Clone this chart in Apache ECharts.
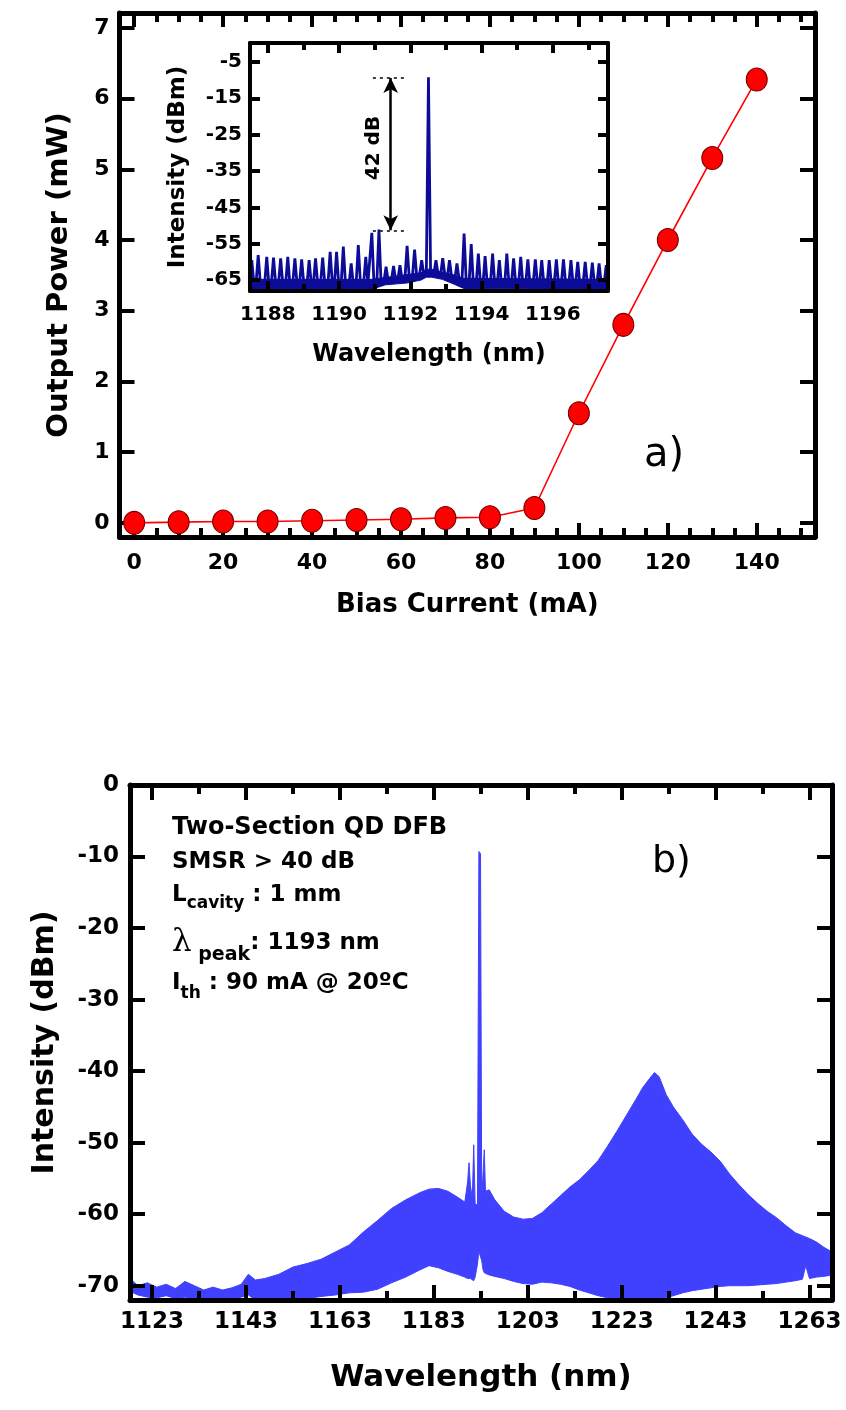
<!DOCTYPE html>
<html><head><meta charset="utf-8">
<script src="https://cdn.jsdelivr.net/npm/echarts@6/dist/echarts.min.js"></script>
<style>html,body{margin:0;padding:0;background:#fff}#c{width:846px;height:1410px}</style>
</head><body><div id="c"></div>
<script>
// ---------- Panel a : L-I curve ----------
const biasCurrent = [0,10,20,30,40,50,60,70,80,90,100,110,120,130,140];
const outputPower = [0.0,0.01,0.02,0.02,0.03,0.04,0.05,0.07,0.08,0.21,1.55,2.8,4.0,5.16,6.27];
const aXMajor = [0,20,40,60,80,100,120,140];
const aXMinor = [5,10,15,25,30,35,45,50,55,65,70,75,85,90,95,105,110,115,125,130,135,145,150];
const aYMajor = [0,1,2,3,4,5,6,7];

// ---------- Inset : zoomed lasing spectrum (mode peaks + noise floor) ----------
const modeWl = [1187.55,1187.73,1187.97,1188.16,1188.36,1188.56,1188.76,1188.95,1189.16,1189.34,1189.54,1189.75,1189.93,1190.12,1190.34,1190.54,1190.75,1190.92,1191.12,1191.32,1191.53,1191.71,1191.91,1192.12,1192.32,1192.51,1192.72,1192.91,1193.10,1193.31,1193.51,1193.71,1193.91,1194.10,1194.31,1194.50,1194.71,1194.90,1195.10,1195.30,1195.51,1195.69,1195.90,1196.10,1196.30,1196.51,1196.70,1196.91,1197.11,1197.30,1197.50];
const modePeak = [-59.5,-58.1,-58.6,-58.8,-59.0,-58.6,-59.0,-59.3,-59.5,-59.0,-58.8,-57.2,-57.2,-55.8,-60.4,-55.4,-58.6,-52.0,-51.1,-61.3,-61.1,-60.9,-55.6,-56.6,-59.5,-9.2,-59.5,-59.0,-59.5,-60.4,-52.2,-55.1,-57.7,-58.4,-57.7,-59.5,-57.7,-59.0,-58.6,-59.3,-59.3,-59.5,-59.5,-59.3,-59.3,-59.5,-60.0,-60.0,-60.2,-60.4,-60.9];
const modeFloor = [-66.0,-65.8,-66.1,-65.9,-66.0,-66.1,-65.9,-66.0,-66.1,-65.9,-66.0,-65.8,-66.0,-65.9,-66.1,-65.8,-66.0,-65.9,-65.8,-65.3,-65.0,-64.8,-64.3,-64.0,-63.5,-63.0,-63.3,-63.6,-64.2,-64.8,-65.5,-65.9,-66.0,-66.1,-65.9,-66.1,-66.0,-65.9,-66.1,-66.0,-65.9,-66.0,-66.1,-66.0,-65.9,-66.1,-66.0,-66.0,-66.1,-65.9,-66.0];
const modeHalfWidth = 0.06;
const floorWl = [1187.5,1190.9,1191.3,1191.9,1192.3,1192.45,1192.6,1192.9,1193.2,1193.5,1197.55];
const floorTop = [-64.8,-64.8,-64.3,-63.5,-63.0,-62.0,-62.0,-62.8,-63.5,-64.5,-64.8];
const floorBottom = [-67.6,-67.6,-66.3,-65.8,-65.0,-64.2,-64.2,-64.8,-66.0,-67.3,-67.6];
const inXMajor = [1188,1190,1192,1194,1196];
const inXMinor = [1189,1191,1193,1195,1197];
const inYMajor = [-65,-55,-45,-35,-25,-15,-5];
const smsrWl = 1191.45, smsrTop = -9.4, smsrBottom = -51.3, smsrDashFrom = 1190.95, smsrDashTo = 1191.85;

// ---------- Panel b : full spectrum envelope ----------
const specWl = [1118.3,1120,1122,1124,1126,1128,1130,1132,1134,1136,1138,1140,1142,1143.5,1145,1147,1150,1153,1156,1159,1162,1165,1168,1171,1174,1177,1180,1182,1184,1186,1188,1189.6,1190.2,1190.5,1190.8,1191.2,1191.5,1191.8,1192.3,1192.6,1192.95,1193.2,1193.5,1193.75,1194.0,1194.8,1196,1198,1200,1202,1204,1206,1208,1210,1212,1214,1216,1218,1220,1222,1224,1226,1227.5,1229,1230,1231,1232.5,1234,1236,1238,1240,1242,1244,1246,1248,1250,1252,1254,1256,1258,1260,1261.5,1262.2,1263,1264.5,1266,1267.8];
const specUpper = [-69.0,-70.0,-69.6,-70.2,-69.8,-70.4,-69.4,-70.0,-70.6,-70.2,-70.6,-70.3,-69.8,-68.4,-69.2,-69.0,-68.4,-67.4,-66.9,-66.3,-65.3,-64.3,-62.5,-60.9,-59.2,-58.0,-57.0,-56.5,-56.4,-56.8,-57.6,-58.3,-55.5,-52.8,-56.0,-57.8,-50.3,-58.5,-58.8,-9.3,-9.6,-58.0,-57.8,-51.0,-56.8,-56.6,-58.0,-59.6,-60.4,-60.7,-60.6,-59.8,-58.6,-57.4,-56.2,-55.2,-53.9,-52.5,-50.5,-48.4,-46.2,-44.0,-42.3,-41.0,-40.2,-40.8,-43.3,-45.0,-46.8,-48.8,-50.2,-51.3,-52.6,-54.4,-55.9,-57.3,-58.5,-59.6,-60.5,-61.6,-62.6,-63.0,-63.2,-63.4,-63.9,-64.6,-65.3];
const specLower = [-70.8,-71.3,-71.6,-71.7,-71.4,-71.8,-71.6,-71.9,-72.0,-71.8,-72.0,-71.9,-71.6,-71.3,-72.0,-72.0,-72.0,-72.0,-71.8,-71.5,-71.3,-71.0,-70.9,-70.5,-69.6,-68.8,-67.8,-67.2,-67.5,-68.0,-68.4,-68.8,-69.0,-69.0,-69.0,-69.2,-69.3,-68.8,-67.0,-65.2,-65.3,-66.5,-67.8,-68.2,-68.4,-68.5,-68.7,-69.0,-69.4,-69.7,-69.8,-69.5,-69.6,-69.8,-70.1,-70.6,-71.0,-71.4,-71.7,-71.9,-72.0,-72.0,-72.0,-72.0,-72.0,-71.9,-71.7,-71.4,-71.0,-70.7,-70.5,-70.3,-70.1,-70.0,-70.0,-70.0,-69.9,-69.8,-69.7,-69.5,-69.3,-69.1,-67.2,-69.0,-68.8,-68.7,-68.5];
const bXMajor = [1123,1143,1163,1183,1203,1223,1243,1263];
const bXMinor = [1133,1153,1173,1193,1213,1233,1253];
const bYMajor = [0,-10,-20,-30,-40,-50,-60,-70];

// ---------- build ----------
const F = 'DejaVu Sans';
const BLK = '#000';
const plain = v => String(v);

function xSet(g, min, max, major, minor, o) {
  const base = {type:'value', gridIndex:g, min:min, max:max, splitLine:{show:false}, z:o.z||0, silent:true};
  const line = {show:true, onZero:false, lineStyle:{color:BLK, width:o.lw}};
  const tick = (vals, len) => ({show:true, inside:true, length:len, customValues:vals, lineStyle:{color:BLK, width:o.tw}});
  return [
    Object.assign({}, base, {position:'bottom', axisLine:line, axisTick:tick(major,o.lmaj),
      axisLabel:{show:true, customValues:major, formatter:plain, margin:o.margin, color:BLK, fontFamily:F, fontWeight:'bold', fontSize:o.fs},
      name:o.name, nameLocation:'middle', nameGap:o.nameGap,
      nameTextStyle:{color:BLK, fontFamily:F, fontWeight:'bold', fontSize:o.nfs}}),
    Object.assign({}, base, {position:'bottom', axisLine:{show:false,onZero:false}, axisTick:tick(minor,o.lmin), axisLabel:{show:false}}),
    Object.assign({}, base, {position:'top', axisLine:line, axisTick:tick(major,o.lmaj), axisLabel:{show:false}}),
    Object.assign({}, base, {position:'top', axisLine:{show:false,onZero:false}, axisTick:tick(minor,o.lmin), axisLabel:{show:false}})
  ];
}
function ySet(g, min, max, major, o) {
  const base = {type:'value', gridIndex:g, min:min, max:max, splitLine:{show:false}, z:o.z||0, silent:true};
  const line = {show:true, onZero:false, lineStyle:{color:BLK, width:o.lw}};
  const tick = {show:true, inside:true, length:o.lmaj, customValues:major, lineStyle:{color:BLK, width:o.tw}};
  return [
    Object.assign({}, base, {position:'left', axisLine:line, axisTick:tick,
      axisLabel:{show:true, customValues:major, formatter:plain, margin:o.margin, color:BLK, fontFamily:F, fontWeight:'bold', fontSize:o.fs},
      name:o.name, nameLocation:'middle', nameGap:o.nameGap,
      nameTextStyle:{color:BLK, fontFamily:F, fontWeight:'bold', fontSize:o.nfs}}),
    Object.assign({}, base, {position:'right', axisLine:line, axisTick:tick, axisLabel:{show:false}})
  ];
}

const xAxes = [].concat(
  xSet(0, -3.3, 153.1, aXMajor, aXMinor, {lw:5, tw:4, lmaj:14, lmin:9, fs:22, margin:15, name:'Bias Current (mA)', nameGap:55, nfs:26}),
  xSet(1, 1187.5, 1197.55, inXMajor, inXMinor, {lw:4, tw:4, lmaj:10, lmin:7, fs:20, margin:14, name:'Wavelength (nm)', nameGap:52, nfs:24, z:9}),
  xSet(2, 1118.3, 1267.8, bXMajor, bXMinor, {lw:5, tw:4, lmaj:15, lmin:9, fs:23, margin:11, name:'Wavelength (nm)', nameGap:62, nfs:31, z:5})
);
const yAxes = [].concat(
  ySet(0, -0.2, 7.21, aYMajor, {lw:5, tw:4, lmaj:15, fs:22, margin:10, name:'Output Power (mW)', nameGap:46, nfs:29}),
  ySet(1, -68, 0.2, inYMajor, {lw:4, tw:4, lmaj:10, fs:20, margin:8, name:'Intensity (dBm)', nameGap:60, nfs:23, z:9}),
  ySet(2, -72, 0, bYMajor, {lw:5, tw:4, lmaj:15, fs:23, margin:11, name:'Intensity (dBm)', nameGap:70, nfs:30, z:5})
);

const liData = biasCurrent.map((x, i) => [x, outputPower[i]]);
const insetData = [];
modeWl.forEach((w, i) => {
  insetData.push([w - modeHalfWidth, modeFloor[i]]);
  insetData.push([w, modePeak[i]]);
  insetData.push([w + modeHalfWidth, modeFloor[i]]);
});
const floorTopData = floorWl.map((w, i) => [w, floorTop[i]]);
const floorBottomData = floorWl.map((w, i) => [w, floorBottom[i]]);
const upperData = specWl.map((w, i) => [w, specUpper[i]]);
const lowerData = specWl.map((w, i) => [w, specLower[i]]);

const BLUE = '#4040ff';
const NAVY = '#0c0c98';
const option = {
  animation:false,
  backgroundColor:'#fff',
  grid:[
    {left:119.5, top:13, width:695.5, height:524},
    {left:250, top:43, width:358, height:248, show:true, backgroundColor:'#fff', borderWidth:0},
    {left:130, top:785, width:702, height:515}
  ],
  xAxis:xAxes,
  yAxis:yAxes,
  series:[
    {type:'line', xAxisIndex:0, yAxisIndex:0, data:liData, symbol:'circle', symbolSize:[21,23],
      itemStyle:{color:'#ff0000', borderColor:'#700000', borderWidth:1},
      lineStyle:{color:'#ff0000', width:1.6}, z:2},
    {type:'line', xAxisIndex:4, yAxisIndex:2, data:floorTopData, symbol:'none',
      lineStyle:{color:NAVY, width:1}, areaStyle:{color:NAVY, opacity:1, origin:'start'}, z:5},
    {type:'line', xAxisIndex:4, yAxisIndex:2, data:floorBottomData, symbol:'none',
      lineStyle:{color:NAVY, width:1}, areaStyle:{color:'#ffffff', opacity:1, origin:'start'}, z:6},
    {type:'line', xAxisIndex:4, yAxisIndex:2, data:insetData, symbol:'none',
      lineStyle:{color:NAVY, width:2.8}, z:7,
      markLine:{silent:true, animation:false, label:{show:false}, symbolSize:[11,15],
        data:[
          [{coord:[smsrWl, smsrTop], symbol:'arrow', lineStyle:{color:BLK, width:2.5, type:'solid'}},
           {coord:[smsrWl, smsrBottom], symbol:'arrow', lineStyle:{color:BLK, width:2.5, type:'solid'}}],
          [{coord:[smsrDashFrom, smsrTop], symbol:'none', lineStyle:{color:BLK, width:1.5, type:[3,4]}},
           {coord:[smsrDashTo, smsrTop], symbol:'none', lineStyle:{color:BLK, width:1.5, type:[3,4]}}],
          [{coord:[smsrDashFrom, smsrBottom], symbol:'none', lineStyle:{color:BLK, width:1.5, type:[3,4]}},
           {coord:[smsrDashTo, smsrBottom], symbol:'none', lineStyle:{color:BLK, width:1.5, type:[3,4]}}]
        ]}},
    {type:'line', xAxisIndex:8, yAxisIndex:4, data:upperData, symbol:'none',
      lineStyle:{color:BLUE, width:1}, areaStyle:{color:BLUE, opacity:1, origin:'start'}, z:2},
    {type:'line', xAxisIndex:8, yAxisIndex:4, data:lowerData, symbol:'none',
      lineStyle:{color:BLUE, width:1}, areaStyle:{color:'#ffffff', opacity:1, origin:'start'}, z:3}
  ],
  graphic:[
    {type:'text', x:644, y:456, z:20, style:{text:'a)', font:'normal 40px "DejaVu Sans"', fill:BLK, textAlign:'left', textVerticalAlign:'middle'}},
    {type:'text', x:652, y:862, z:20, style:{text:'b)', font:'normal 38px "DejaVu Sans"', fill:BLK, textAlign:'left', textVerticalAlign:'middle'}},
    {type:'text', x:374, y:148, rotation:Math.PI/2, z:20, style:{text:'42 dB', font:'bold 20px "DejaVu Sans"', fill:BLK, textAlign:'center', textVerticalAlign:'middle'}},
    {type:'text', x:172, y:828, z:20, style:{text:'Two-Section QD DFB', font:'bold 24px "DejaVu Sans"', fill:BLK, textAlign:'left', textVerticalAlign:'middle'}},
    {type:'text', x:172, y:862, z:20, style:{text:'SMSR > 40 dB', font:'bold 23px "DejaVu Sans"', fill:BLK, textAlign:'left', textVerticalAlign:'middle'}},
    {type:'text', x:172, y:895, z:20, style:{text:'{m|L}{s|cavity}{m| : 1 mm}', textAlign:'left', textVerticalAlign:'middle',
      rich:{m:{fontFamily:F, fontWeight:'bold', fontSize:23, lineHeight:34, verticalAlign:'middle', fill:BLK, color:BLK},
            s:{fontFamily:F, fontWeight:'bold', fontSize:17, verticalAlign:'bottom', fill:BLK, color:BLK}}}},
    {type:'text', x:172, y:943, z:20, style:{text:'{l|λ}{s| peak}{m|: 1193 nm}', textAlign:'left', textVerticalAlign:'middle',
      rich:{l:{fontFamily:'DejaVu Serif', fontSize:31, lineHeight:44, verticalAlign:'middle', fill:BLK, color:BLK},
            m:{fontFamily:F, fontWeight:'bold', fontSize:23, lineHeight:44, verticalAlign:'middle', fill:BLK, color:BLK},
            s:{fontFamily:F, fontWeight:'bold', fontSize:19, verticalAlign:'bottom', fill:BLK, color:BLK}}}},
    {type:'text', x:172, y:983, z:20, style:{text:'{m|I}{s|th}{m| : 90 mA @ 20ºC}', textAlign:'left', textVerticalAlign:'middle',
      rich:{m:{fontFamily:F, fontWeight:'bold', fontSize:23, lineHeight:38, verticalAlign:'middle', fill:BLK, color:BLK},
            s:{fontFamily:F, fontWeight:'bold', fontSize:17, verticalAlign:'bottom', fill:BLK, color:BLK}}}}
  ]
};
const chart = echarts.init(document.getElementById('c'), null, {renderer:'canvas', width:846, height:1410});
chart.setOption(option);
</script></body></html>
